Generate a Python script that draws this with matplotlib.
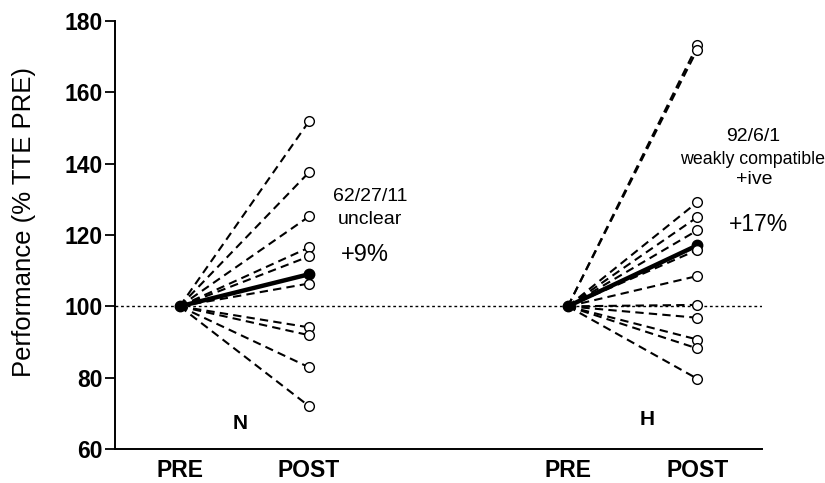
import matplotlib
matplotlib.use("Agg")
import matplotlib.pyplot as plt

plt.rcParams["font.family"] = ["Liberation Sans", "DejaVu Sans"]

# Individual POST values (% of PRE); every PRE value is 100
N_POST = [151.9, 137.6, 125.2, 116.5, 114.0, 106.4, 94.1, 91.9, 82.9, 72.0]
H_POST = [173.2, 172.0, 129.2, 125.0, 121.3, 115.8, 108.5, 100.4, 96.8, 90.7, 88.2, 79.7]
N_MEAN = 109.0
H_MEAN = 117.1
PRE_VALUE = 100

GROUP_X = {"N": (0, 1), "H": (3, 4)}
TICK_LABELS = ["PRE", "POST", "PRE", "POST"]

fig = plt.figure(figsize=(8.25, 4.83), dpi=100)
ax = fig.add_axes([0.1394, 0.0704, 0.7842, 0.8861])

ax.axhline(PRE_VALUE, color="black", linestyle=(0, (2, 2)), linewidth=1.0, zorder=1)

for name, posts, mean in (("N", N_POST, N_MEAN), ("H", H_POST, H_MEAN)):
    x0, x1 = GROUP_X[name]
    for v in posts:
        ax.plot([x0, x1], [PRE_VALUE, v], color="black", linestyle=(0, (4, 2.5)),
                linewidth=1.5, zorder=2)
        ax.plot(x1, v, marker="o", markersize=7, markerfacecolor="white",
                markeredgecolor="black", markeredgewidth=1.0, zorder=4, linestyle="none")
    ax.plot([x0, x1], [PRE_VALUE, mean], color="black", linewidth=3.2, zorder=3,
            marker="o", markersize=7.5, markerfacecolor="black", markeredgecolor="black")

txt = dict(ha="center", va="center", color="black")
ax.text(1.47, 130.9, "62/27/11", fontsize=14, **txt)
ax.text(1.47, 124.4, "unclear", fontsize=14, **txt)
ax.text(1.43, 114.4, "+9%", fontsize=17, **txt)
ax.text(4.43, 147.7, "92/6/1", fontsize=14, **txt)
ax.text(4.43, 141.2, "weakly compatible", fontsize=12.8, **txt)
ax.text(4.44, 135.7, "+ive", fontsize=14, **txt)
ax.text(4.47, 123.0, "+17%", fontsize=16.5, **txt)
ax.text(0.47, 67.2, "N", fontsize=15, fontweight="bold", **txt)
ax.text(3.61, 68.3, "H", fontsize=15, fontweight="bold", **txt)

ax.set_xlim(-0.5, 4.5)
ax.set_ylim(60, 180)
ax.set_yticks(range(60, 181, 20))
ax.set_xticks([0, 1, 3, 4])
ax.set_xticklabels(TICK_LABELS)
for lbl in ax.get_xticklabels() + ax.get_yticklabels():
    lbl.set_fontweight("bold")
    lbl.set_fontsize(16.5)
ax.tick_params(axis="y", direction="out", length=7, width=1.3, pad=2)
ax.tick_params(axis="x", length=0, pad=7)

fig.text(24.5 / 825, 1 - 221.5 / 483, "Performance (% TTE PRE)", fontsize=18.5,
         rotation=90, ha="center", va="center")

for side in ("top", "right"):
    ax.spines[side].set_visible(False)
for side in ("left", "bottom"):
    ax.spines[side].set_linewidth(1.4)

fig.savefig("out.png", dpi=100)
